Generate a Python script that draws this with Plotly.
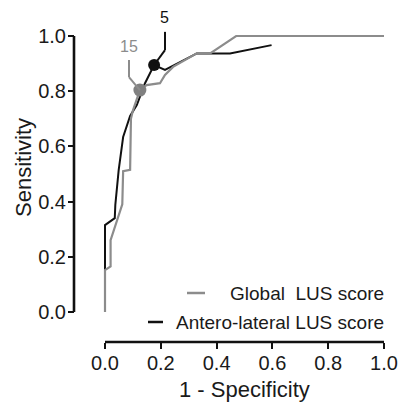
import plotly.graph_objects as go

# ROC curves: 1 - specificity (x) versus sensitivity (y)
global_fpr = [0.0, 0.0, 0.02, 0.02, 0.062, 0.065, 0.09, 0.093, 0.10, 0.125,
              0.149, 0.197, 0.215, 0.244, 0.329, 0.377, 0.47, 1.0]
global_tpr = [0.0, 0.152, 0.165, 0.26, 0.39, 0.51, 0.515, 0.70, 0.73, 0.804,
              0.822, 0.829, 0.859, 0.888, 0.937, 0.937, 1.0, 1.0]

antero_fpr = [0.0, 0.0, 0.0, 0.035, 0.037, 0.049, 0.058, 0.065, 0.09, 0.114,
              0.143, 0.176, 0.215, 0.329, 0.377, 0.448, 0.597]
antero_tpr = [0.0, 0.155, 0.315, 0.34, 0.388, 0.514, 0.587, 0.634, 0.71, 0.75,
              0.828, 0.895, 0.877, 0.937, 0.937, 0.937, 0.967]

series_names = ["Global\u00a0 LUS score", "Antero-lateral LUS score"]

# optimal cut-off points (score value, 1 - specificity, sensitivity)
cutoff_labels = ["15", "5"]
cutoff_fpr = [0.125, 0.176]
cutoff_tpr = [0.804, 0.895]

tick_vals = [0.0, 0.2, 0.4, 0.6, 0.8, 1.0]
tick_text = ["0.0", "0.2", "0.4", "0.6", "0.8", "1.0"]

GRAY = "#8c8c8c"
DOT_GRAY = "#808080"
BLACK = "#111111"
TEXT = "#1a1a1a"
FONT = "Arial, Liberation Sans, sans-serif"

# ---- page geometry (pixels) ----
W, H = 401, 402
X0_PX, X1_PX = 105, 384      # x = 0 and x = 1
Y0_PX, Y1_PX = 312, 36       # y = 0 and y = 1
YAXIS_PX = 74                # detached y axis line
XAXIS_PX = 342               # detached x axis line
PAD = 0.015


def paper_x(p):
    return p / W


def paper_y(p):
    return (H - p) / H


xr = [-PAD, 1 + PAD]
yr = [-PAD, 1 + PAD]
sx = X1_PX - X0_PX
sy = Y0_PX - Y1_PX
x_dom = [paper_x(X0_PX - PAD * sx), paper_x(X1_PX + PAD * sx)]
y_dom = [paper_y(Y0_PX + PAD * sy), paper_y(Y1_PX - PAD * sy)]


def fx(v):
    return (v - xr[0]) / (xr[1] - xr[0])


def fy(v):
    return (v - yr[0]) / (yr[1] - yr[0])


def data_to_paper(x, y):
    return (x_dom[0] + fx(x) * (x_dom[1] - x_dom[0]),
            y_dom[0] + fy(y) * (y_dom[1] - y_dom[0]))


fig = go.Figure()

fig.add_trace(go.Scatter(x=antero_fpr, y=antero_tpr, mode="lines",
                         line=dict(color=BLACK, width=2), name=series_names[1],
                         showlegend=False, hoverinfo="skip"))
fig.add_trace(go.Scatter(x=global_fpr, y=global_tpr, mode="lines",
                         line=dict(color=GRAY, width=2.2), name=series_names[0],
                         showlegend=False, hoverinfo="skip"))
fig.add_trace(go.Scatter(x=[cutoff_fpr[0]], y=[cutoff_tpr[0]], mode="markers",
                         marker=dict(color=DOT_GRAY, size=13), cliponaxis=False,
                         showlegend=False, hoverinfo="skip"))
fig.add_trace(go.Scatter(x=[cutoff_fpr[1]], y=[cutoff_tpr[1]], mode="markers",
                         marker=dict(color=BLACK, size=12), cliponaxis=False,
                         showlegend=False, hoverinfo="skip"))

shapes = []
annotations = []

# detached axis lines spanning 0..1 only
shapes.append(dict(type="line", xref="x domain", yref="paper",
                   x0=fx(0), x1=fx(1), y0=paper_y(XAXIS_PX), y1=paper_y(XAXIS_PX),
                   line=dict(color=BLACK, width=2.6)))
shapes.append(dict(type="line", xref="paper", yref="y domain",
                   x0=paper_x(YAXIS_PX), x1=paper_x(YAXIS_PX), y0=fy(0), y1=fy(1),
                   line=dict(color=BLACK, width=2.6)))

# leader lines from the cut-off points up to their labels
leaders = [
    # (bend dx, bend dy, top dy, label dy, colour)
    (-0.039, 0.047, 0.109, 0.157, GRAY),
    (0.039, 0.054, 0.120, 0.172, BLACK),
]
for (bdx, bdy, tdy, ldy, col), lab, cx, cy in zip(leaders, cutoff_labels, cutoff_fpr, cutoff_tpr):
    bx, by = cx + bdx, cy + bdy
    shapes.append(dict(type="line", xref="x domain", yref="y domain",
                       x0=fx(cx), y0=fy(cy), x1=fx(bx), y1=fy(by),
                       line=dict(color=col, width=2)))
    shapes.append(dict(type="line", xref="x domain", yref="y domain",
                       x0=fx(bx), y0=fy(by), x1=fx(bx), y1=fy(cy + tdy),
                       line=dict(color=col, width=2)))
    lx, ly = data_to_paper(bx, cy + ldy)
    annotations.append(dict(x=lx, y=ly, xref="paper", yref="paper", text=lab,
                            showarrow=False, xanchor="center", yanchor="middle",
                            font=dict(family=FONT, size=16, color=col)))

# legend: short line sample followed by right-aligned label
legend_rows = [
    (series_names[0], GRAY, 293, 187, 205),
    (series_names[1], BLACK, 322, 148, 163),
]
for name, col, ypx, lx0, lx1 in legend_rows:
    shapes.append(dict(type="line", xref="paper", yref="paper",
                       x0=paper_x(lx0), x1=paper_x(lx1), y0=paper_y(ypx), y1=paper_y(ypx),
                       line=dict(color=col, width=2.5)))
    annotations.append(dict(x=paper_x(386), y=paper_y(ypx), xref="paper", yref="paper",
                            text=name, showarrow=False, xanchor="right", yanchor="middle",
                            font=dict(family=FONT, size=19, color=TEXT)))

# axis titles
annotations.append(dict(x=paper_x((X0_PX + X1_PX) / 2), y=paper_y(389), xref="paper", yref="paper",
                        text="1 - Specificity", showarrow=False, xanchor="center", yanchor="middle",
                        font=dict(family=FONT, size=22, color=TEXT)))
annotations.append(dict(x=paper_x(23), y=paper_y(168), xref="paper", yref="paper",
                        text="Sensitivity", showarrow=False, textangle=-90,
                        xanchor="center", yanchor="middle",
                        font=dict(family=FONT, size=22, color=TEXT)))

axis_common = dict(
    tickmode="array", tickvals=tick_vals, ticktext=tick_text,
    ticks="outside", ticklen=6, tickwidth=2, tickcolor=BLACK,
    showline=False, showgrid=False, zeroline=False,
    tickfont=dict(family=FONT, size=20, color=TEXT),
    anchor="free", fixedrange=True, automargin=False,
)

fig.update_layout(
    width=W, height=H, autosize=False,
    margin=dict(l=0, r=0, t=0, b=0),
    paper_bgcolor="white", plot_bgcolor="white",
    xaxis=dict(domain=x_dom, range=xr, position=paper_y(XAXIS_PX),
               ticklabelstandoff=-3, **axis_common),
    yaxis=dict(domain=y_dom, range=yr, position=paper_x(YAXIS_PX), side="left",
               ticklabelstandoff=-2, **axis_common),
    shapes=shapes, annotations=annotations,
    showlegend=False,
)

# the page body keeps no default margin so the figure fills the window exactly
fig.write_html("out.html", config={"displayModeBar": False},
               post_script="document.body.style.margin='0';")
